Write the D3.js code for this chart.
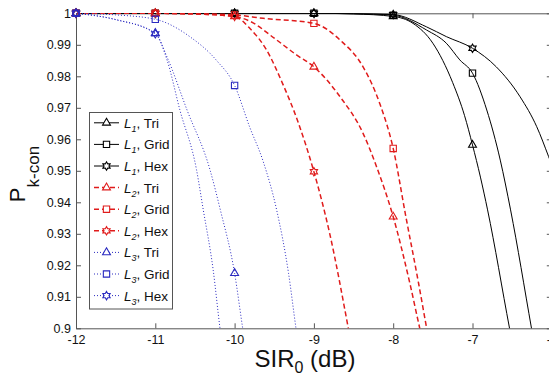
<!DOCTYPE html>
<html>
<head>
<meta charset="utf-8">
<script src="https://cdn.jsdelivr.net/npm/d3@7"></script>
<style>
  body { margin: 0; background: #fff; }
  svg { display: block; font-family: "Liberation Sans", Arial, sans-serif; }
</style>
</head>
<body>
<div id="chart"></div>
<script>
// axis ticks
const xTicks = [-12, -11, -10, -9, -8, -7, -6];
const yTicks = [0.9, 0.91, 0.92, 0.93, 0.94, 0.95, 0.96, 0.97, 0.98, 0.99, 1];

// [SIR0 (dB), P k-con]
const l1Tri = [[-12, 1], [-11, 1], [-10, 1], [-9, 1], [-8.5, 0.9998], [-8, 0.999], [-7.75, 0.9968], [-7.5, 0.9905],
  [-7.25, 0.978], [-7.1, 0.9675], [-7, 0.9582], [-6.9, 0.948], [-6.81, 0.9376], [-6.533, 0.9], [-6.45, 0.889]];
const l1Grid = [[-12, 1], [-11, 1], [-10, 1], [-9, 1], [-8.5, 0.9999], [-8, 0.9994], [-7.58, 0.9947], [-7.33, 0.9905],
  [-7.16, 0.9852], [-7, 0.981], [-6.82, 0.9693], [-6.65, 0.9534], [-6.52, 0.9376], [-6.256, 0.9], [-6.2, 0.892]];
const l1Hex = [[-12, 1], [-11, 1], [-10, 1], [-9, 1], [-8.5, 0.9999], [-8, 0.9996], [-7.58, 0.9957], [-7.33, 0.9926],
  [-7, 0.9889], [-6.7, 0.983], [-6.4, 0.9735], [-6.19, 0.964], [-6.04, 0.9545], [-5.98, 0.9505]];

const l2Tri = [[-12, 1], [-11, 1], [-10.5, 0.9998], [-10, 0.999], [-9.8, 0.9974], [-9.5, 0.9921], [-9.22, 0.9868],
  [-9, 0.983], [-8.67, 0.9735], [-8.38, 0.9619], [-8.21, 0.9513], [-8, 0.9354], [-7.79, 0.9143], [-7.665, 0.9], [-7.6, 0.893]];
const l2Grid = [[-12, 1], [-11, 1], [-10.5, 0.9999], [-10, 0.9995], [-9.64, 0.9984], [-9, 0.9968], [-8.67, 0.9915],
  [-8.38, 0.983], [-8.17, 0.9714], [-8, 0.9571], [-7.84, 0.9354], [-7.68, 0.9143], [-7.578, 0.9], [-7.52, 0.892]];
const l2Hex = [[-12, 1], [-11, 1], [-10.5, 0.9998], [-10, 0.999], [-9.8, 0.995], [-9.6, 0.9885], [-9.4, 0.978],
  [-9.2, 0.9655], [-9, 0.9497], [-8.8, 0.93], [-8.566, 0.9], [-8.5, 0.891]];

const l3Tri = [[-12, 1], [-11.5, 0.998], [-11, 0.9937], [-10.85, 0.986], [-10.6, 0.9693], [-10.31, 0.9503],
  [-10.18, 0.9376], [-10, 0.9175], [-9.898, 0.9], [-9.85, 0.892]];
const l3Grid = [[-12, 1], [-11.5, 0.9995], [-11, 0.9981], [-10.56, 0.9925], [-10.23, 0.9851], [-10, 0.9771],
  [-9.81, 0.9639], [-9.64, 0.953], [-9.47, 0.9376], [-9.32, 0.9175], [-9.226, 0.9], [-9.18, 0.892]];
const l3Hex = [[-12, 1], [-11.5, 0.998], [-11, 0.9935], [-10.85, 0.985], [-10.69, 0.9693], [-10.48, 0.9503],
  [-10.395, 0.9376], [-10.27, 0.9185], [-10.184, 0.9], [-10.14, 0.892]];

const series = [
  { sub: "1", shape: "Tri", data: l1Tri, color: "#000", dash: null, width: 1 },
  { sub: "1", shape: "Grid", data: l1Grid, color: "#000", dash: null, width: 1 },
  { sub: "1", shape: "Hex", data: l1Hex, color: "#000", dash: null, width: 1 },
  { sub: "2", shape: "Tri", data: l2Tri, color: "#e01b1b", dash: "5,3", width: 1.5 },
  { sub: "2", shape: "Grid", data: l2Grid, color: "#e01b1b", dash: "5,3", width: 1.5 },
  { sub: "2", shape: "Hex", data: l2Hex, color: "#e01b1b", dash: "5,3", width: 1.5 },
  { sub: "3", shape: "Tri", data: l3Tri, color: "#2a2ac0", dash: "1,2", width: 1 },
  { sub: "3", shape: "Grid", data: l3Grid, color: "#2a2ac0", dash: "1,2", width: 1 },
  { sub: "3", shape: "Hex", data: l3Hex, color: "#2a2ac0", dash: "1,2", width: 1 }
];

const W = 549, H = 378;
const plotL = 76, plotR = 551.8, plotT = 13.3, plotB = 328.3;

const svg = d3.select("#chart").append("svg")
    .attr("width", W)
    .attr("height", H);

const x = d3.scaleLinear().domain([-12, -6]).range([plotL, plotR]);
const y = d3.scaleLinear().domain([0.9, 1]).range([plotB, plotT]);

// marker paths
function hexagram(r) {
  const pts = [];
  for (let i = 0; i < 12; i++) {
    const a = -Math.PI / 2 + i * Math.PI / 6;
    const rr = i % 2 === 0 ? r : r / Math.sqrt(3);
    pts.push([rr * Math.cos(a), rr * Math.sin(a)]);
  }
  return "M" + pts.map(p => p.join(",")).join("L") + "Z";
}
const markerPath = {
  Tri: d3.symbol(d3.symbolTriangle, 27)(),
  Grid: d3.symbol(d3.symbolSquare, 40)(),
  Hex: hexagram(4.2)
};

svg.append("defs").append("clipPath").attr("id", "plot-clip")
  .append("rect")
    .attr("x", plotL).attr("y", plotT)
    .attr("width", plotR - plotL).attr("height", plotB - plotT);

// axes, ticks pointing inward
const axisColor = "#555";
svg.append("g")
    .attr("transform", `translate(0,${plotB})`)
    .call(d3.axisBottom(x).tickValues(xTicks).tickSizeInner(-5).tickSizeOuter(0).tickPadding(7)
      .tickFormat(d => String(d)));
svg.append("g")
    .attr("transform", `translate(${plotL},0)`)
    .call(d3.axisLeft(y).tickValues(yTicks).tickSizeInner(-5).tickSizeOuter(0).tickPadding(5)
      .tickFormat(d => String(+d.toFixed(2))));
svg.append("g")
    .attr("transform", `translate(0,${plotT})`)
    .call(d3.axisTop(x).tickValues(xTicks).tickSizeInner(-5).tickSizeOuter(0).tickFormat(""));
svg.append("g")
    .attr("transform", `translate(${plotR},0)`)
    .call(d3.axisRight(y).tickValues(yTicks).tickSizeInner(-5).tickSizeOuter(0).tickFormat(""));

svg.selectAll(".domain, .tick line").attr("stroke", axisColor);
svg.selectAll(".tick text").attr("fill", "#111").style("font-size", "12.5px");

// curves
const line = d3.line()
    .x(d => x(d[0]))
    .y(d => y(d[1]))
    .curve(d3.curveMonotoneX);

series.forEach(s => {
  svg.append("path")
      .datum(s.data)
      .attr("clip-path", "url(#plot-clip)")
      .attr("fill", "none")
      .attr("stroke", s.color)
      .attr("stroke-width", s.width)
      .attr("stroke-dasharray", s.dash)
      .attr("d", line);

  svg.selectAll(null)
    .data(s.data.filter(d => Number.isInteger(d[0]) && d[1] >= 0.9))
    .enter().append("path")
      .attr("transform", d => `translate(${x(d[0])},${y(d[1])})`)
      .attr("d", markerPath[s.shape])
      .attr("fill", "none")
      .attr("stroke", s.color)
      .attr("stroke-width", 1.1);
});

// legend
const lg = svg.append("g");
lg.append("rect")
    .attr("x", 89.5).attr("y", 112.5)
    .attr("width", 83).attr("height", 196.5)
    .attr("fill", "#fff")
    .attr("stroke", axisColor);

series.forEach((s, i) => {
  const ry = 122.8 + i * 21.6;
  lg.append("line")
      .attr("x1", 94).attr("x2", 119)
      .attr("y1", ry).attr("y2", ry)
      .attr("stroke", s.color)
      .attr("stroke-width", s.width)
      .attr("stroke-dasharray", s.dash);
  lg.append("path")
      .attr("transform", `translate(106.5,${ry})`)
      .attr("d", markerPath[s.shape])
      .attr("fill", "#fff")
      .attr("stroke", s.color)
      .attr("stroke-width", 1.1);
  const t = lg.append("text")
      .attr("x", 124).attr("y", ry + 5)
      .attr("fill", "#111")
      .style("font-size", "13.5px");
  t.append("tspan").style("font-style", "italic").text("L");
  t.append("tspan").style("font-style", "italic").style("font-size", "9px").attr("dy", 4).text(s.sub);
  t.append("tspan").attr("dy", -4).text(", " + s.shape);
});

// axis labels
const xl = svg.append("text")
    .attr("x", 305).attr("y", 367)
    .attr("text-anchor", "middle")
    .attr("fill", "#111")
    .style("font-size", "24px");
xl.append("tspan").text("SIR");
xl.append("tspan").style("font-size", "16px").attr("dy", 6).text("0");
xl.append("tspan").attr("dy", -6).text(" (dB)");

const yl = svg.append("text")
    .attr("transform", "translate(25,174) rotate(-90)")
    .attr("text-anchor", "middle")
    .attr("fill", "#111")
    .style("font-size", "22px");
yl.append("tspan").text("P");
yl.append("tspan").style("font-size", "17px").attr("dy", 14).text("k-con");
</script>
</body>
</html>
